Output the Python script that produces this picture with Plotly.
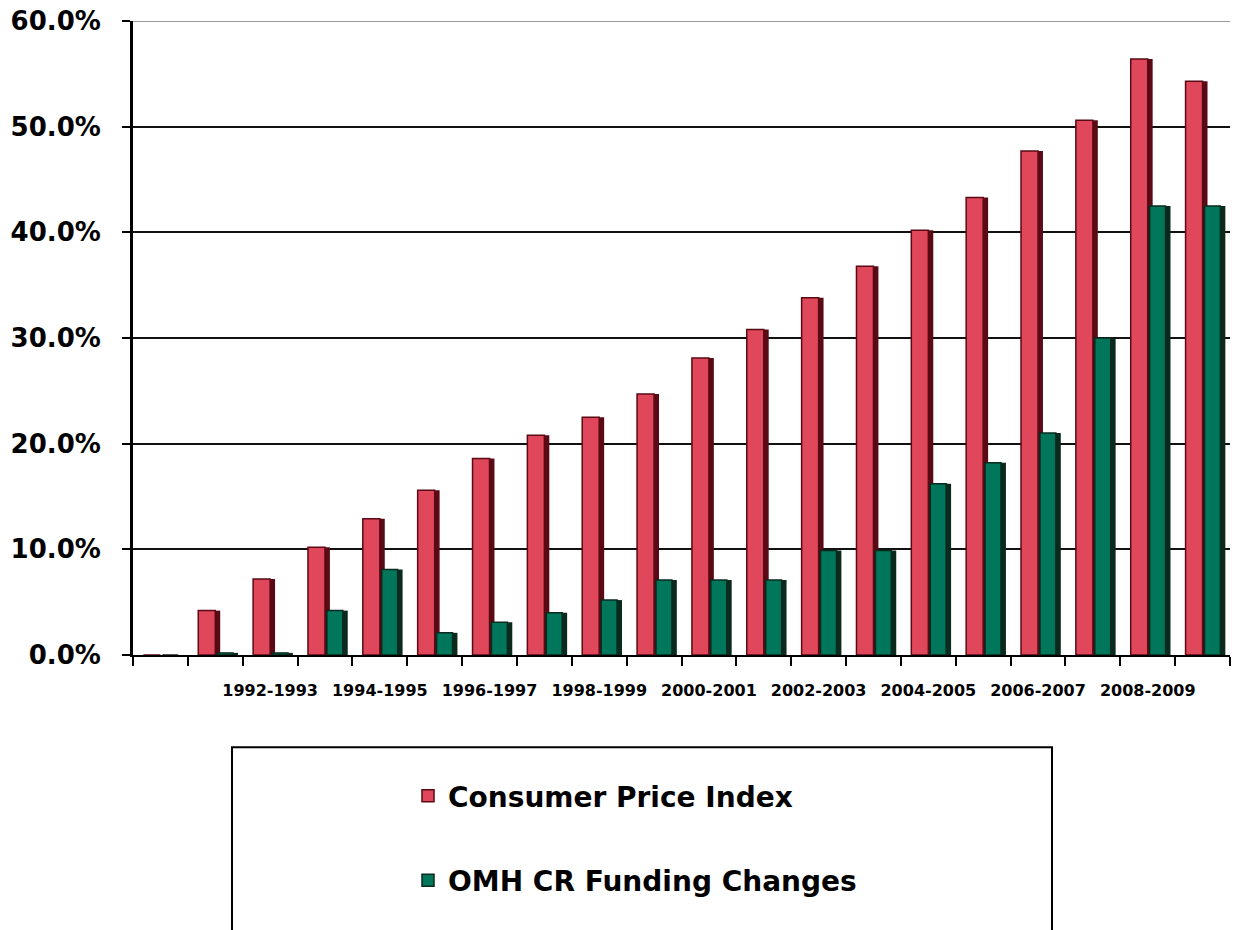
import plotly.graph_objects as go

# Fiscal years (base year first)
years = [
    "1990-1991", "1991-1992", "1992-1993", "1993-1994", "1994-1995",
    "1995-1996", "1996-1997", "1997-1998", "1998-1999", "1999-2000",
    "2000-2001", "2001-2002", "2002-2003", "2003-2004", "2004-2005",
    "2005-2006", "2006-2007", "2007-2008", "2008-2009", "2009-2010",
]
# Every other year is labelled on the axis
shown_labels = [
    "1992-1993", "1994-1995", "1996-1997", "1998-1999", "2000-2001",
    "2002-2003", "2004-2005", "2006-2007", "2008-2009",
]

# Cumulative change since the base year, in percent
cpi = [0.0, 4.2, 7.2, 10.2, 12.9, 15.6, 18.6, 20.8, 22.5, 24.7,
       28.1, 30.8, 33.8, 36.8, 40.2, 43.3, 47.7, 50.6, 56.4, 54.3]
omh = [0.0, 0.2, 0.2, 4.2, 8.1, 2.1, 3.1, 4.0, 5.2, 7.1,
       7.1, 7.1, 9.9, 9.9, 16.2, 18.2, 21.0, 30.0, 42.5, 42.5]

y_ticks = [0, 10, 20, 30, 40, 50, 60]
y_tick_labels = ["0.0%", "10.0%", "20.0%", "30.0%", "40.0%", "50.0%", "60.0%"]

RED = "#E1475B"
RED_DARK = "#5A0A14"
GREEN = "#00775A"
GREEN_DARK = "#0A2A1E"
FONT = "DejaVu Sans"

fig = go.Figure()

# Each column: a dark body shifted right (gives the 3-D side), then the face
series = [
    ("Consumer Price Index", cpi, RED, RED_DARK, -0.31, 0.31),
    ("OMH CR Funding Changes", omh, GREEN, GREEN_DARK, 0.035, 0.29),
]
for name, vals, face, dark, off, w in series:
    fig.add_trace(go.Bar(
        x=years, y=vals, offset=off + 0.09, width=w,
        marker=dict(color=dark, line=dict(width=0)),
        showlegend=False, hoverinfo="skip",
    ))
    fig.add_trace(go.Bar(
        x=years, y=vals, offset=off, width=w, name=name,
        legendgroup=name,
        marker=dict(color=face, line=dict(color=dark, width=1.5)),
    ))

ticktext = [y if y in shown_labels else "" for y in years]

fig.update_layout(
    width=1236, height=930,
    margin=dict(l=133, r=6, t=16, b=275),
    paper_bgcolor="white", plot_bgcolor="white",
    barmode="overlay",
    font=dict(family=FONT, color="black"),
    xaxis=dict(
        type="category",
        tickmode="array", tickvals=years, ticktext=ticktext,
        tickson="boundaries", tickangle=0,
        ticks="outside", ticklen=9, tickwidth=2, tickcolor="black",
        ticklabelstandoff=20,
        tickfont=dict(family=FONT, size=16, weight="bold", color="black"),
        showline=True, linecolor="black", linewidth=2,
        showgrid=False, range=[-0.5, 19.5],
    ),
    yaxis=dict(
        range=[0, 60],
        tickmode="array", tickvals=y_ticks, ticktext=y_tick_labels,
        ticks="outside", ticklen=8, tickwidth=2, tickcolor="black",
        ticklabelstandoff=16,
        tickfont=dict(family=FONT, size=26, weight="bold", color="black"),
        showline=True, linecolor="black", linewidth=3,
        showgrid=True, gridcolor="#111111", gridwidth=2,
        zeroline=False,
    ),
    legend=dict(
        x=(408 - 133) / 1097, y=(655 - 772) / 639,
        xanchor="left", yanchor="top",
        font=dict(family=FONT, size=28, weight="bold", color="black"),
        bgcolor="rgba(0,0,0,0)", borderwidth=0,
        tracegroupgap=45,
    ),
    shapes=[
        # lighter top gridline
        dict(type="line", xref="paper", yref="y", x0=0, x1=1, y0=60, y1=60,
             line=dict(color="#9a9a9a", width=2), layer="above"),
        # legend frame
        dict(type="rect", xref="paper", yref="paper",
             x0=(232 - 133) / 1097, x1=(1052 - 133) / 1097,
             y0=(655 - 748) / 639, y1=-0.5,
             line=dict(color="black", width=2), fillcolor="rgba(0,0,0,0)"),
    ],
)

fig.write_html("out.html")
